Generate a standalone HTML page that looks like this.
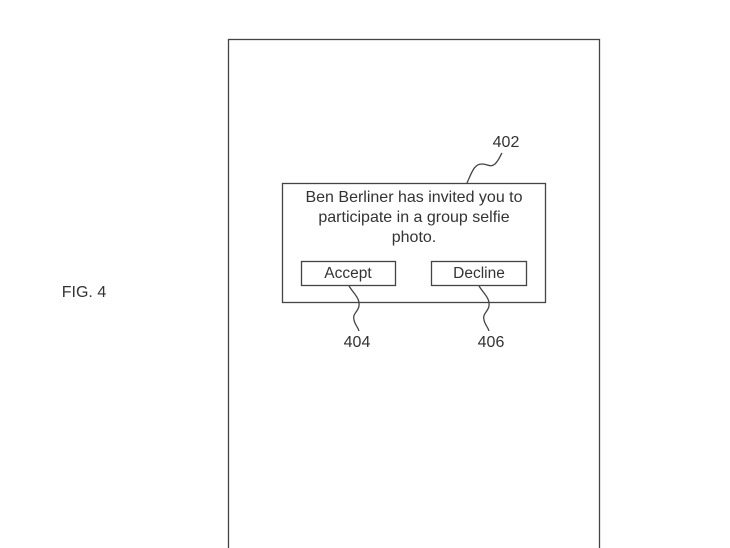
<!DOCTYPE html>
<html><head><style>
body{margin:0;width:730px;height:548px;background:#fff;overflow:hidden;font-family:"Liberation Sans",sans-serif;}
</style></head><body>
<svg width="730" height="548" xmlns="http://www.w3.org/2000/svg" style="position:absolute;left:0;top:0">
<g fill="none" stroke="#444" stroke-width="1.3">
<rect x="228.5" y="39.5" width="371" height="520"/>
<rect x="282.5" y="183.5" width="263" height="119"/>
<rect x="301.5" y="261.5" width="94" height="24"/>
<rect x="431.5" y="261.5" width="95" height="24"/>
<path d="M467 183 C472 172,474 164,482 164 C488 164,490 168,495 164 C499 160,500 156,502 153"/>
<path d="M349 286 C354 294,360 298,359 306 C358 312,352 314,354 320 C355 325,358 327,359 331"/>
<path d="M479 286 C484 294,490 298,489 306 C488 312,482 314,484 320 C485 325,488 327,489 331"/>
</g>
<g font-family="Liberation Sans, sans-serif" fill="#333" font-size="16" text-anchor="middle">
<text x="414" y="202">Ben Berliner has invited you to</text>
<text x="414" y="222">participate in a group selfie</text>
<text x="414" y="242">photo.</text>
<text x="348" y="278" font-size="15.5">Accept</text>
<text x="479" y="278" font-size="15.5">Decline</text>
<text x="506" y="147">402</text>
<text x="357" y="347">404</text>
<text x="491" y="347">406</text>
<text x="84" y="297">FIG. 4</text>
</g>
</svg>
</body></html>
